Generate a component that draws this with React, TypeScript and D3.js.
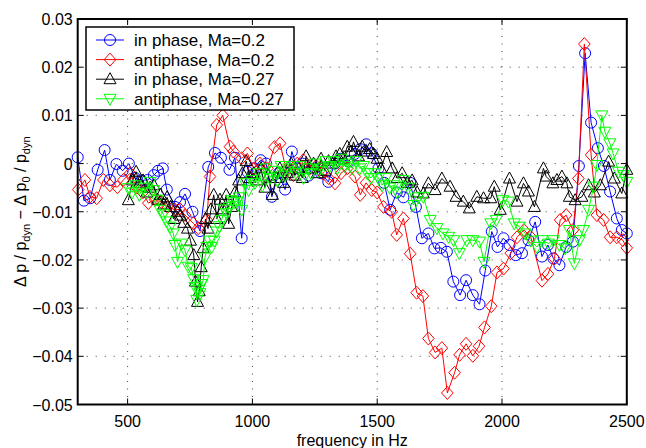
import React from "react";
import * as d3 from "d3";

const W = 646;
const H = 448;

const xTicks = [500, 1000, 1500, 2000, 2500];
const yTicks = [-0.05, -0.04, -0.03, -0.02, -0.01, 0, 0.01, 0.02, 0.03];
const yTickLabels = ["−0.05", "−0.04", "−0.03", "−0.02", "−0.01", "0", "0.01", "0.02", "0.03"];

const seriesNames = ["in phase, Ma=0.2", "antiphase, Ma=0.2", "in phase, Ma=0.27", "antiphase, Ma=0.27"];
const seriesColors = ["#0000ff", "#ff0000", "#000000", "#00ff00"];
const seriesMarkers = ["circle", "diamond", "triUp", "triDown"];

const blueFreq = [300, 325, 350, 380, 408, 429, 455, 480, 505, 530, 555, 580, 605, 622, 641, 657, 690, 710, 730, 760, 790, 823, 850, 874, 908, 930, 957, 980, 1005, 1033, 1055, 1078, 1105, 1131, 1158, 1180, 1200, 1225, 1250, 1275, 1304, 1330, 1355, 1385, 1410, 1432, 1456, 1478, 1505, 1528, 1552, 1578, 1605, 1632, 1655, 1679, 1705, 1729, 1755, 1779, 1805, 1832, 1856, 1883, 1910, 1933, 1959, 1982, 2006, 2030, 2055, 2080, 2106, 2133, 2160, 2184, 2206, 2230, 2257, 2284, 2308, 2333, 2357, 2384, 2408, 2433, 2460, 2480, 2500];
const blueVal = [0.0013, -0.0077, -0.0072, -0.0013, 0.0028, -0.0034, -0.0001, -0.0015, 0.0, -0.003, -0.0035, -0.0034, -0.0024, -0.0015, -0.001, -0.0054, -0.009, -0.008, -0.0063, -0.01, -0.014, -0.0007, 0.0022, 0.0012, -0.0013, 0.0012, -0.0155, -0.0017, -0.001, 0.0007, 0.0, -0.0069, -0.002, -0.0054, 0.0025, -0.001, 0.0, -0.0025, -0.001, -0.002, -0.0038, 0.0, 0.001, 0.0004, 0.002, 0.003, 0.004, 0.0021, -0.001, -0.004, -0.0096, -0.006, -0.007, -0.004, -0.009, -0.0155, -0.0145, -0.0176, -0.0175, -0.0183, -0.0245, -0.0273, -0.0242, -0.0273, -0.0292, -0.0222, -0.0141, -0.0173, -0.0155, -0.0169, -0.019, -0.0186, -0.0159, -0.0121, -0.0193, -0.0169, -0.0197, -0.0211, -0.0173, -0.0162, -0.0005, 0.0229, 0.0085, 0.0032, -0.0005, -0.0058, -0.0114, -0.0138, -0.0145];

const redFreq = [302, 329, 349, 376, 403, 429, 459, 483, 510, 536, 560, 583, 610, 635, 660, 690, 710, 730, 763, 783, 817, 830, 857, 881, 910, 924, 957, 980, 1005, 1030, 1060, 1088, 1111, 1135, 1164, 1180, 1204, 1230, 1255, 1280, 1305, 1331, 1355, 1380, 1411, 1432, 1455, 1478, 1500, 1525, 1558, 1578, 1605, 1632, 1658, 1683, 1705, 1732, 1759, 1781, 1810, 1830, 1856, 1883, 1908, 1930, 1957, 1980, 2006, 2035, 2060, 2088, 2115, 2160, 2184, 2210, 2233, 2257, 2284, 2306, 2330, 2357, 2380, 2407, 2433, 2460, 2484, 2500];
const redVal = [-0.0054, -0.0034, -0.0069, -0.0072, -0.0034, -0.0045, -0.0049, -0.0034, -0.002, -0.005, -0.006, -0.0082, -0.0075, -0.008, -0.009, -0.0096, -0.0095, -0.0107, -0.0124, -0.0134, -0.0117, -0.0027, 0.008, 0.01, 0.0035, 0.0025, 0.0011, 0.0021, -0.001, 0.0, -0.001, 0.0034, 0.0042, -0.0013, -0.0024, 0.0, 0.0007, -0.001, -0.0005, -0.002, -0.003, -0.0041, -0.002, -0.001, -0.0027, -0.0065, -0.004, -0.0055, -0.006, -0.009, -0.01, -0.0148, -0.0114, -0.0187, -0.0268, -0.0275, -0.0363, -0.0392, -0.0383, -0.0476, -0.0434, -0.0397, -0.0374, -0.0399, -0.0379, -0.034, -0.0296, -0.0226, -0.0218, -0.0186, -0.0153, -0.0138, -0.0152, -0.0243, -0.0229, -0.0197, -0.0117, -0.0107, -0.0138, -0.0031, 0.0248, 0.0018, -0.0107, -0.0117, -0.0153, -0.0153, -0.0159, -0.0175];

const blackFreq = [503, 520, 534, 548, 562, 576, 590, 605, 620, 632, 645, 658, 672, 685, 700, 712, 725, 740, 752, 765, 772, 780, 787, 795, 803, 812, 822, 834, 845, 858, 870, 882, 895, 905, 917, 930, 945, 960, 975, 990, 1005, 1020, 1035, 1050, 1065, 1080, 1095, 1110, 1125, 1140, 1155, 1170, 1185, 1200, 1215, 1230, 1245, 1260, 1275, 1290, 1305, 1320, 1335, 1350, 1365, 1380, 1395, 1405, 1425, 1440, 1455, 1470, 1485, 1500, 1515, 1538, 1560, 1580, 1600, 1620, 1640, 1660, 1685, 1705, 1732, 1759, 1792, 1816, 1845, 1869, 1899, 1926, 1955, 1969, 1993, 2030, 2060, 2086, 2106, 2130, 2166, 2177, 2204, 2220, 2240, 2260, 2270, 2293, 2320, 2347, 2370, 2394, 2427, 2450, 2480, 2500];
const blackVal = [-0.0076, -0.0035, -0.0017, -0.004, -0.0035, -0.006, -0.005, -0.0045, -0.0075, -0.0065, -0.0085, -0.007, -0.009, -0.0115, -0.01, -0.0108, -0.0123, -0.0135, -0.016, -0.019, -0.0245, -0.0287, -0.0265, -0.0215, -0.0175, -0.0115, -0.0135, -0.0095, -0.0065, -0.0115, -0.0075, -0.0095, -0.0065, -0.0125, -0.009, -0.006, -0.0035, -0.002, 0.0005, -0.003, -0.002, -0.0035, -0.001, -0.005, -0.0025, -0.0065, -0.003, -0.001, -0.004, -0.002, 0.0, -0.0025, -0.001, -0.003, 0.0015, -0.001, 0.0, -0.002, 0.001, -0.0015, 0.0005, 0.0, 0.0015, 0.002, 0.001, 0.0035, 0.0025, 0.0045, 0.0015, 0.0035, 0.0025, 0.003, 0.002, 0.001, -0.001, 0.0024, -0.001, -0.003, -0.002, -0.004, -0.0035, -0.006, -0.0062, -0.0041, -0.0055, -0.0031, -0.0048, -0.0069, -0.0079, -0.0093, -0.0069, -0.0072, -0.0072, -0.0048, -0.0096, -0.0031, -0.0079, -0.0041, -0.0058, -0.009, -0.001, -0.0027, -0.0041, -0.0034, -0.0027, -0.0041, -0.0069, -0.0076, -0.0069, -0.0045, -0.006, -0.0045, 0.0004, -0.0031, -0.0062, -0.0013];

const greenFreq = [503, 518, 532, 547, 562, 576, 590, 605, 618, 630, 643, 656, 670, 683, 690, 700, 717, 730, 743, 755, 765, 770, 777, 785, 790, 797, 803, 810, 817, 827, 837, 847, 857, 867, 877, 887, 897, 907, 917, 927, 937, 947, 957, 970, 985, 997, 1010, 1025, 1040, 1055, 1070, 1085, 1100, 1115, 1130, 1145, 1160, 1175, 1190, 1205, 1220, 1235, 1250, 1265, 1280, 1295, 1310, 1325, 1340, 1355, 1370, 1385, 1400, 1415, 1430, 1445, 1460, 1475, 1490, 1505, 1520, 1535, 1550, 1565, 1580, 1603, 1625, 1645, 1665, 1685, 1712, 1739, 1763, 1786, 1806, 1829, 1859, 1883, 1910, 1928, 1955, 1977, 2003, 2026, 2049, 2070, 2093, 2115, 2140, 2160, 2186, 2206, 2230, 2253, 2270, 2290, 2310, 2326, 2347, 2367, 2380, 2400, 2412, 2432, 2445, 2467, 2487, 2500];
const greenVal = [-0.0051, -0.006, -0.0045, -0.0065, -0.005, -0.006, -0.0038, -0.0055, -0.0075, -0.0096, -0.0105, -0.012, -0.0131, -0.0145, -0.0169, -0.0204, -0.0166, -0.018, -0.0214, -0.0217, -0.024, -0.0256, -0.0283, -0.0262, -0.0269, -0.025, -0.0242, -0.0195, -0.0173, -0.016, -0.0173, -0.016, -0.0141, -0.013, -0.0117, -0.0095, -0.0103, -0.009, -0.0076, -0.008, -0.0079, -0.007, -0.0096, -0.0041, -0.0055, -0.0034, -0.004, -0.002, -0.0045, -0.001, -0.003, -0.0015, -0.0035, -0.0005, -0.0025, -0.001, -0.0005, -0.002, -0.0005, -0.003, -0.001, -0.002, 0.0, -0.0015, -0.001, 0.0005, -0.0005, 0.0005, -0.001, 0.001, -0.0005, 0.0, -0.001, 0.0005, -0.001, -0.0005, -0.002, -0.003, -0.002, -0.003, -0.0045, -0.003, -0.005, -0.0045, -0.006, -0.0034, -0.005, -0.0086, -0.007, -0.0069, -0.0117, -0.0134, -0.0145, -0.0152, -0.0159, -0.0186, -0.0159, -0.0159, -0.0162, -0.0204, -0.0124, -0.0117, -0.0076, -0.0079, -0.0124, -0.0131, -0.0145, -0.016, -0.0173, -0.0159, -0.0166, -0.0159, -0.0169, -0.0176, -0.0138, -0.0207, -0.0159, -0.0138, -0.0096, -0.0048, -0.0003, 0.01, 0.0066, 0.0042, 0.0021, -0.0017, -0.0024, -0.0038];

const allFreq = [blueFreq, redFreq, blackFreq, greenFreq];
const allVal = [blueVal, redVal, blackVal, greenVal];

const L = 77.7, R = 626.8, T = 19, B = 404.5;
const FONT = "'Liberation Sans', Arial, Helvetica, sans-serif";

function Marker({ kind, cx, cy, color }: { kind: string; cx: number; cy: number; color: string }) {
  if (kind === "circle") return <circle cx={cx} cy={cy} r={5.5} fill="none" stroke={color} strokeWidth={1} />;
  if (kind === "diamond") {
    const pts = [[cx, cy - 6.5], [cx + 5.8, cy], [cx, cy + 6.5], [cx - 5.8, cy]];
    return <polygon points={pts.map((p) => p.join(",")).join(" ")} fill="none" stroke={color} strokeWidth={1} />;
  }
  if (kind === "triUp") {
    const pts = [[cx, cy - 6.5], [cx + 6, cy + 4.5], [cx - 6, cy + 4.5]];
    return <polygon points={pts.map((p) => p.join(",")).join(" ")} fill="none" stroke={color} strokeWidth={1} />;
  }
  const pts = [[cx, cy + 6.5], [cx + 6, cy - 4.5], [cx - 6, cy - 4.5]];
  return <polygon points={pts.map((p) => p.join(",")).join(" ")} fill="none" stroke={color} strokeWidth={1} />;
}

export default function App() {
  const x = d3.scaleLinear().domain([300, 2500]).range([L, R]);
  const y = d3.scaleLinear().domain([-0.05, 0.03]).range([B, T]);
  const line = d3.line<[number, number]>().x((d) => x(d[0])).y((d) => y(d[1]));

  return (
    <svg width={W} height={H} style={{ position: "absolute", left: 0, top: 0, background: "#fff" }} fontFamily={FONT}>
      <rect x={0} y={0} width={W} height={H} fill="#fff" />
      {xTicks.filter((t) => t < 2500).map((t) => (
        <line key={"gx" + t} x1={x(t)} x2={x(t)} y1={B} y2={T} stroke="#000" strokeOpacity={0.75} strokeWidth={1} strokeDasharray="1,6.5" />
      ))}
      {yTicks.filter((t) => t > -0.05 && t < 0.03).map((t) => (
        <line key={"gy" + t} x1={L} x2={R} y1={y(t)} y2={y(t)} stroke="#000" strokeOpacity={0.75} strokeWidth={1} strokeDasharray="1,8" />
      ))}
      {allFreq.map((fs, si) => {
        const pts: [number, number][] = fs.map((f, i) => [f, allVal[si][i]]);
        return (
          <g key={"s" + si}>
            <path d={line(pts) || ""} fill="none" stroke={seriesColors[si]} strokeWidth={1} />
            {pts.map((p, i) => (
              <Marker key={i} kind={seriesMarkers[si]} cx={x(p[0])} cy={y(p[1])} color={seriesColors[si]} />
            ))}
          </g>
        );
      })}
      {xTicks.map((t) => (
        <g key={"tx" + t}>
          <line x1={x(t)} x2={x(t)} y1={B} y2={B - 6} stroke="#000" strokeWidth={1} />
          <line x1={x(t)} x2={x(t)} y1={T} y2={T + 6} stroke="#000" strokeWidth={1} />
          <text x={x(t)} y={B + 22} textAnchor="middle" fontSize={16}>{t}</text>
        </g>
      ))}
      {yTicks.map((t, i) => (
        <g key={"ty" + t}>
          <line x1={L} x2={L + 6} y1={y(t)} y2={y(t)} stroke="#000" strokeWidth={1} />
          <line x1={R} x2={R - 6} y1={y(t)} y2={y(t)} stroke="#000" strokeWidth={1} />
          <text x={L - 5} y={y(t) + 6} textAnchor="end" fontSize={16}>{yTickLabels[i]}</text>
        </g>
      ))}
      <rect x={L} y={T} width={R - L} height={B - T} fill="none" stroke="#000" strokeWidth={2} />
      <text x={(L + R) / 2} y={446} textAnchor="middle" fontSize={16}>frequency in Hz</text>
      <text transform={`translate(26,${(T + B) / 2}) rotate(-90)`} textAnchor="middle" fontSize={16}>
        <tspan>Δ p / p</tspan>
        <tspan fontSize={11} dy={4}>dyn</tspan>
        <tspan dy={-4}> − Δ p</tspan>
        <tspan fontSize={11} dy={4}>0</tspan>
        <tspan dy={-4}> / p</tspan>
        <tspan fontSize={11} dy={4}>dyn</tspan>
      </text>
      <rect x={86} y={27} width={208} height={83} fill="#fff" stroke="#000" strokeWidth={1.5} />
      {seriesNames.map((n, i) => {
        const ly = 40 + i * 19.6;
        return (
          <g key={"lg" + i}>
            <line x1={96} x2={124} y1={ly} y2={ly} stroke={seriesColors[i]} strokeWidth={1} />
            <Marker kind={seriesMarkers[i]} cx={110} cy={ly} color={seriesColors[i]} />
            <text x={134} y={ly + 6} fontSize={17}>{n}</text>
          </g>
        );
      })}
    </svg>
  );
}
